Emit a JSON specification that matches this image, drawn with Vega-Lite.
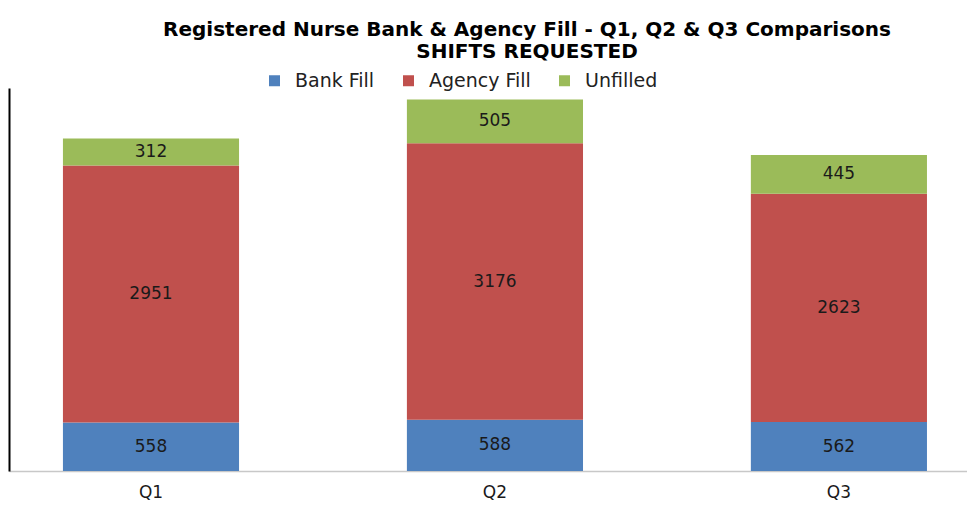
{
  "$schema": "https://vega.github.io/schema/vega-lite/v6.json",
  "width": 958,
  "height": 383,
  "autosize": {"type": "none"},
  "padding": {"left": 9, "top": 88, "right": 0, "bottom": 35},
  "background": "white",
  "title": {
    "text": ["Registered Nurse Bank & Agency Fill - Q1, Q2 & Q3 Comparisons", "SHIFTS REQUESTED"],
    "font": "DejaVu Sans",
    "fontSize": 20,
    "fontWeight": "bold",
    "color": "#000000",
    "anchor": "middle",
    "dx": 39,
    "offset": 9,
    "lineHeight": 22
  },
  "data": {
    "values": [
      {"quarter": "Q1", "series": "Bank Fill", "order": 1, "value": 558},
      {"quarter": "Q1", "series": "Agency Fill", "order": 2, "value": 2951},
      {"quarter": "Q1", "series": "Unfilled", "order": 3, "value": 312},
      {"quarter": "Q2", "series": "Bank Fill", "order": 1, "value": 588},
      {"quarter": "Q2", "series": "Agency Fill", "order": 2, "value": 3176},
      {"quarter": "Q2", "series": "Unfilled", "order": 3, "value": 505},
      {"quarter": "Q3", "series": "Bank Fill", "order": 1, "value": 562},
      {"quarter": "Q3", "series": "Agency Fill", "order": 2, "value": 2623},
      {"quarter": "Q3", "series": "Unfilled", "order": 3, "value": 445}
    ]
  },
  "transform": [
    {"stack": "value", "groupby": ["quarter"], "sort": [{"field": "order", "order": "ascending"}], "as": ["v0", "v1"]},
    {"calculate": "(datum.v0 + datum.v1) / 2", "as": "mid"}
  ],
  "encoding": {
    "x": {
      "field": "quarter",
      "type": "nominal",
      "title": null,
      "scale": {"paddingInner": 0.488, "paddingOuter": 0.1366, "align": 0.574},
      "axis": {
        "labelAngle": 0,
        "labelFont": "DejaVu Sans",
        "labelFontSize": 17,
        "labelColor": "#1a1a1a",
        "labelPadding": 13,
        "ticks": false,
        "domainColor": "#c8c8c8",
        "domainWidth": 1.5,
        "grid": false
      }
    }
  },
  "layer": [
    {
      "mark": {"type": "bar"},
      "encoding": {
        "y": {
          "field": "v0",
          "type": "quantitative",
          "scale": {"domain": [0, 4400], "nice": false},
          "axis": {"title": null, "labels": false, "ticks": false, "grid": false, "domainColor": "#000000", "domainWidth": 2}
        },
        "y2": {"field": "v1"},
        "color": {
          "field": "series",
          "type": "nominal",
          "sort": ["Bank Fill", "Agency Fill", "Unfilled"],
          "scale": {"domain": ["Bank Fill", "Agency Fill", "Unfilled"], "range": ["#4F81BD", "#C0504D", "#9BBB59"]},
          "legend": {
            "orient": "none",
            "legendX": 256,
            "legendY": -17,
            "direction": "horizontal",
            "title": null,
            "symbolType": "square",
            "symbolSize": 121,
            "symbolStrokeWidth": 0,
            "labelFont": "DejaVu Sans",
            "labelFontSize": 19,
            "labelColor": "#222222",
            "columnPadding": 24,
            "labelOffset": 11
          }
        }
      }
    },
    {
      "mark": {"type": "text", "font": "DejaVu Sans", "fontSize": 17, "color": "#1a1a1a"},
      "encoding": {
        "y": {"field": "mid", "type": "quantitative"},
        "text": {"field": "value", "type": "quantitative"}
      }
    }
  ],
  "config": {"view": {"stroke": null}}
}
